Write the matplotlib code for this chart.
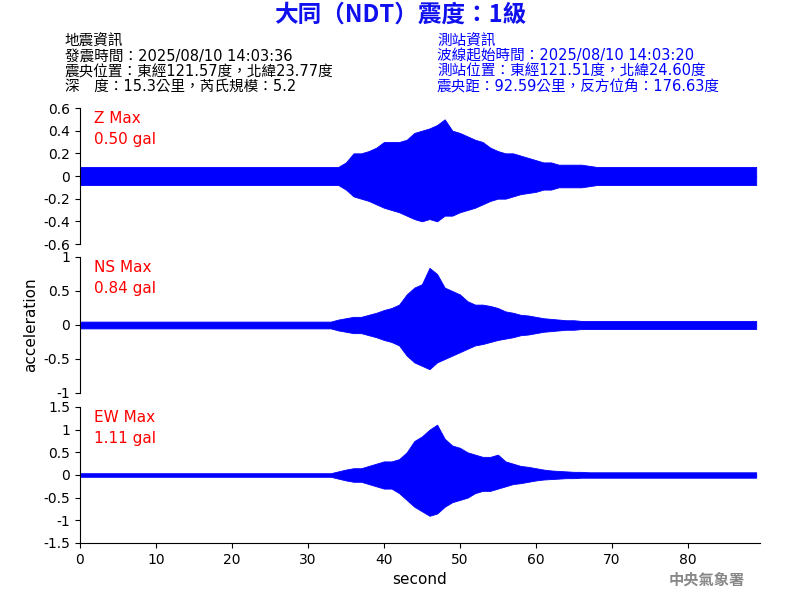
import matplotlib
matplotlib.use("Agg")
import matplotlib.pyplot as plt

plt.rcParams['font.family'] = ['DejaVu Sans', 'Noto Sans CJK TC']

seconds = list(range(90))
z_up = [0.08]*35 + [0.12,0.2,0.2,0.22,0.25,0.3,0.3,0.3,0.32,0.38,0.4,0.42,0.45,0.5,0.4,0.38,0.35,0.32,0.3,0.25,0.22,0.2,0.2,0.18,0.16,0.14,0.12,0.12,0.1,0.1,0.1,0.1,0.09] + [0.08]*22
z_lo = [-0.08]*35 + [-0.12,-0.18,-0.2,-0.22,-0.25,-0.28,-0.3,-0.32,-0.35,-0.38,-0.4,-0.38,-0.4,-0.35,-0.35,-0.32,-0.3,-0.28,-0.25,-0.22,-0.2,-0.2,-0.18,-0.16,-0.15,-0.14,-0.12,-0.12,-0.1,-0.1,-0.1,-0.1,-0.09] + [-0.08]*22
ns_up = [0.05]*34 + [0.08,0.1,0.12,0.12,0.15,0.18,0.22,0.25,0.3,0.45,0.55,0.6,0.84,0.75,0.55,0.5,0.45,0.35,0.3,0.3,0.28,0.25,0.2,0.18,0.15,0.14,0.12,0.1,0.09,0.08,0.07,0.07,0.06] + [0.06]*23
ns_lo = [-0.05]*34 + [-0.08,-0.1,-0.12,-0.12,-0.15,-0.18,-0.22,-0.25,-0.3,-0.45,-0.55,-0.6,-0.65,-0.55,-0.5,-0.45,-0.4,-0.35,-0.3,-0.28,-0.25,-0.22,-0.2,-0.18,-0.15,-0.14,-0.12,-0.1,-0.09,-0.08,-0.07,-0.07,-0.06] + [-0.06]*23
ew_up = [0.04]*34 + [0.08,0.12,0.15,0.15,0.2,0.25,0.3,0.3,0.35,0.5,0.75,0.85,1.0,1.11,0.8,0.65,0.6,0.5,0.45,0.4,0.4,0.45,0.3,0.25,0.2,0.18,0.15,0.12,0.1,0.09,0.08,0.07,0.07] + [0.06]*23
ew_lo = [-0.04]*34 + [-0.08,-0.12,-0.15,-0.15,-0.2,-0.25,-0.3,-0.3,-0.4,-0.55,-0.7,-0.8,-0.9,-0.85,-0.7,-0.6,-0.55,-0.5,-0.4,-0.35,-0.35,-0.3,-0.25,-0.2,-0.18,-0.15,-0.12,-0.1,-0.09,-0.08,-0.07,-0.07,-0.06] + [-0.06]*23

panels = [
    ("Z Max\n0.50 gal", z_up, z_lo, (-0.6, 0.6), [-0.6,-0.4,-0.2,0,0.2,0.4,0.6], ["-0.6","-0.4","-0.2","0","0.2","0.4","0.6"]),
    ("NS Max\n0.84 gal", ns_up, ns_lo, (-1, 1), [-1,-0.5,0,0.5,1], ["-1","-0.5","0","0.5","1"]),
    ("EW Max\n1.11 gal", ew_up, ew_lo, (-1.5, 1.5), [-1.5,-1,-0.5,0,0.5,1,1.5], ["-1.5","-1","-0.5","0","0.5","1","1.5"]),
]

fig = plt.figure(figsize=(8, 6), dpi=100)
tops = [108, 257, 407]
for i, (lab, up, lo, yl, yt, ytl) in enumerate(panels):
    ax = fig.add_axes([80/800, 1-(tops[i]+136)/600, 680/800, 136/600])
    ax.fill_between(seconds, lo, up, color='blue', linewidth=0.6)
    ax.plot(seconds, [0]*90, color='blue', lw=0.8)
    ax.set_xlim(0, 89.5)
    ax.set_ylim(*yl)
    ax.set_yticks(yt)
    ax.set_yticklabels(ytl, fontsize=10)
    ax.spines['top'].set_visible(False)
    ax.spines['right'].set_visible(False)
    ax.text(0.02, 0.98, lab, transform=ax.transAxes, color='red', fontsize=11, va='top', linespacing=1.5)
    if i < 2:
        ax.spines['bottom'].set_visible(False)
        ax.set_xticks([])
    else:
        ax.set_xticks(range(0, 90, 10))
        ax.tick_params(axis='x', labelsize=10)
        ax.set_xlabel("second", fontsize=11)
    if i == 1:
        ax.set_ylabel("acceleration", fontsize=11)

cjk = ['DejaVu Sans', 'Noto Sans CJK TC']
fig.text(0.5, 0.995, "大同（NDT）震度：1級", color='#1010ee', fontsize=17, weight='bold', ha='center', va='top', family=['Noto Sans CJK TC'])
left = "地震資訊\n發震時間：2025/08/10 14:03:36\n震央位置：東經121.57度，北緯23.77度\n深　度：15.3公里，芮氏規模：5.2"
right = "測站資訊\n波線起始時間：2025/08/10 14:03:20\n測站位置：東經121.51度，北緯24.60度\n震央距：92.59公里，反方位角：176.63度"
fig.text(65/800, 1-34/600, left, fontsize=10.5, va='top', ha='left', linespacing=1.0, family=cjk)
fig.text(437/800, 1-34/600, right, fontsize=10.5, va='top', ha='left', linespacing=1.0, color='blue', family=cjk)
fig.text(745/800, 1-580/600, "中央氣象署", fontsize=11, color='#888888', ha='right', va='center', weight='bold', family=['Noto Sans CJK TC'])
fig.savefig("out.png")
